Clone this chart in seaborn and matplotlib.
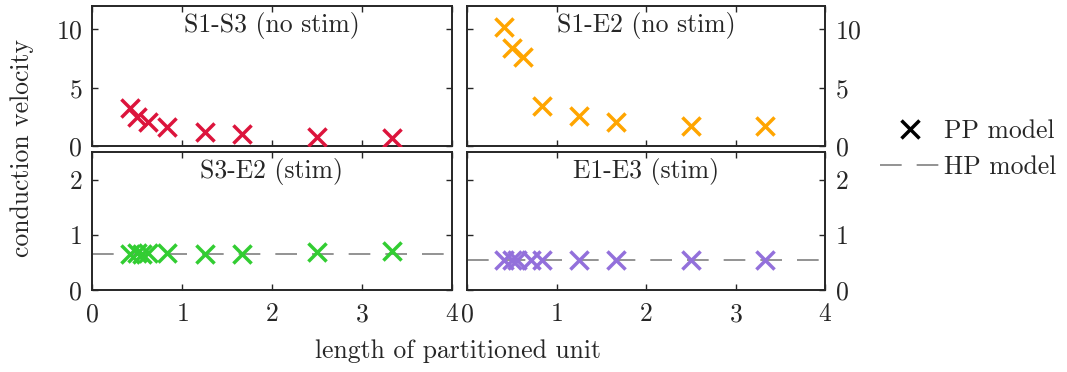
import matplotlib
matplotlib.use("Agg")
import matplotlib.pyplot as plt
import seaborn as sns
import pandas as pd
from matplotlib.lines import Line2D

# --- data ---
len_s1s3 = [0.417, 0.5, 0.625, 0.833, 1.25, 1.667, 2.5, 3.333]
cv_s1s3 = [3.3, 2.5, 2.1, 1.6, 1.2, 1.05, 0.8, 0.7]

len_s1e2 = [0.417, 0.5, 0.625, 0.833, 1.25, 1.667, 2.5, 3.333]
cv_s1e2 = [10.2, 8.4, 7.6, 3.4, 2.6, 2.1, 1.7, 1.7]

len_s3e2 = [0.417, 0.5, 0.556, 0.625, 0.833, 1.25, 1.667, 2.5, 3.333]
cv_s3e2 = [0.66, 0.67, 0.66, 0.67, 0.67, 0.66, 0.66, 0.68, 0.71]
hp_s3e2 = 0.65

len_e1e3 = [0.417, 0.5, 0.556, 0.714, 0.833, 1.25, 1.667, 2.5, 3.333]
cv_e1e3 = [0.55, 0.55, 0.55, 0.55, 0.55, 0.55, 0.55, 0.55, 0.54]
hp_e1e3 = 0.55

titles = ["S1-S3 (no stim)", "S1-E2 (no stim)", "S3-E2 (stim)", "E1-E3 (stim)"]
colors = ["#DC143C", "#FFA500", "#32CD32", "#9370DB"]

sns.set_style("ticks")
plt.rcParams["font.family"] = ["cmr10", "DejaVu Serif"]
plt.rcParams["axes.formatter.use_mathtext"] = True
fs = 18.5
plt.rcParams["font.size"] = fs

fig = plt.figure(figsize=(10.67, 3.72), dpi=100)
W = 1067.0
H = 372.0
lefts = [92 / W, 467 / W]
widths = [360 / W, 358 / W]
tops = [6, 152]
bots = [146, 290]

panels = [
    (len_s1s3, cv_s1s3, None),
    (len_s1e2, cv_s1e2, None),
    (len_s3e2, cv_s3e2, hp_s3e2),
    (len_e1e3, cv_e1e3, hp_e1e3),
]

dash = (13, 9)

for i, (xs, ys, hp) in enumerate(panels):
    r, c = divmod(i, 2)
    ax = fig.add_axes([lefts[c], 1 - bots[r] / H, widths[c], (bots[r] - tops[r]) / H])
    if hp is not None:
        ax.axhline(hp, color="#808080", lw=1.2, dashes=dash, zorder=1)
    df = pd.DataFrame({"x": xs, "y": ys})
    sns.scatterplot(data=df, x="x", y="y", marker="x", s=170, linewidth=2.5,
                    color=colors[i], ax=ax, zorder=3)
    ax.set_xlim(0, 4)
    if r == 0:
        ax.set_ylim(0, 12)
        ax.set_yticks([0, 5, 10])
    else:
        ax.set_ylim(0, 2.5)
        ax.set_yticks([0, 1, 2])
    ax.set_xticks([0, 1, 2, 3, 4])
    ax.set_xlabel("")
    ax.set_ylabel("")
    ax.tick_params(direction="in", top=True, right=True, left=True, bottom=True,
                   length=4, width=1, labelsize=fs, colors="#262626")
    ax.tick_params(axis="x", pad=9)
    ax.tick_params(axis="y", pad=7)
    if r == 0:
        ax.tick_params(labelbottom=False)
    if c == 1:
        ax.tick_params(labelleft=False, labelright=True)
    for sp in ax.spines.values():
        sp.set_visible(True)
        sp.set_linewidth(1.4)
        sp.set_color("#262626")
    ax.text(0.5, 0.955, titles[i], transform=ax.transAxes, ha="center", va="top",
            fontsize=fs)

fig.text(22 / W, 1 - 148 / H, "conduction velocity", rotation=90,
         ha="center", va="center", fontsize=fs)
fig.text(458 / W, 1 - 351 / H, "length of partitioned unit",
         ha="center", va="center", fontsize=fs)

handles = [
    Line2D([], [], marker="x", color="black", ls="none", markersize=13, mew=2.5),
    Line2D([], [], color="#808080", lw=1.2, dashes=dash),
]
fig.legend(handles, ["PP model", "HP model"], loc="center left",
           bbox_to_anchor=(880 / W, 1 - 149 / H), frameon=False, fontsize=fs,
           handlelength=2.3, handletextpad=0.2, labelspacing=0.45,
           borderpad=0.0, borderaxespad=0.0)

fig.savefig("out.png", dpi=100)
